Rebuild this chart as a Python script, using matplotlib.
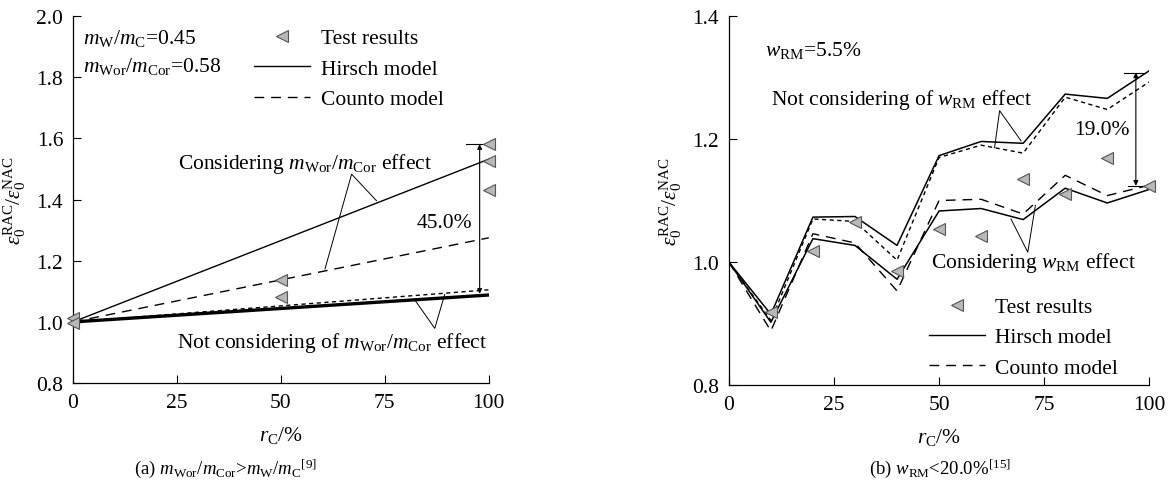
import matplotlib
matplotlib.use("Agg")
import matplotlib.pyplot as plt
from matplotlib.lines import Line2D

plt.rcParams["font.family"] = ["Liberation Serif", "DejaVu Serif"]
plt.rcParams["mathtext.fontset"] = "custom"
plt.rcParams["mathtext.rm"] = "Liberation Serif"
plt.rcParams["mathtext.it"] = "Liberation Serif:italic"
plt.rcParams["mathtext.bf"] = "Liberation Serif:bold"

# ---- panel (a): m_Wor/m_Cor > m_W/m_C ----
rc_a = [0, 100]
hirsch_c_a = [1.0, 1.532]     # considering m_Wor/m_Cor
counto_c_a = [1.0, 1.275]
hirsch_nc_a = [1.0, 1.088]    # not considering
counto_nc_a = [1.0, 1.105]
test_x_a = [0, 0, 50, 50, 100, 100, 100]
test_y_a = [1.012, 0.997, 1.138, 1.083, 1.581, 1.525, 1.430]

# ---- panel (b): w_RM < 20.0% ----
rc_b = [0, 10, 20, 30, 40, 50, 60, 70, 80, 90, 100]
hirsch_nc_b = [1.0, 0.915, 1.073, 1.074, 1.027, 1.173, 1.196, 1.193, 1.273, 1.266, 1.311]
counto_nc_b = [1.0, 0.905, 1.070, 1.066, 1.003, 1.170, 1.190, 1.177, 1.268, 1.248, 1.293]
hirsch_c_b = [1.0, 0.902, 1.038, 1.027, 0.972, 1.083, 1.087, 1.069, 1.120, 1.096, 1.118]
counto_c_b = [1.0, 0.888, 1.046, 1.031, 0.953, 1.100, 1.102, 1.078, 1.141, 1.108, 1.125]
test_x_b = [10, 20, 30, 40, 50, 60, 70, 80, 90, 100]
test_y_b = [0.918, 1.018, 1.065, 0.986, 1.054, 1.042, 1.135, 1.111, 1.169, 1.124]

LONG = (0, (7, 5))
SHORT = (0, (3, 2.5))
FS = 15.5
mk = dict(marker="<", linestyle="none", markersize=9, markerfacecolor="#b8b8b8",
          markeredgecolor="#555555", markeredgewidth=0.8)
YLABEL = r"$\varepsilon_0^{\rm RAC}/\varepsilon_0^{\rm NAC}$"
XLABEL = r"$r_{\rm C}$/%"


def style_axes(ax, ylim, yticks):
    ax.set_xlim(0, 100)
    ax.set_ylim(*ylim)
    ax.set_xticks([0, 25, 50, 75, 100])
    ax.set_yticks(yticks)
    ax.yaxis.set_major_formatter(matplotlib.ticker.FormatStrFormatter("%.1f"))
    for s in ["top", "right"]:
        ax.spines[s].set_visible(False)
    for s in ["left", "bottom"]:
        ax.spines[s].set_linewidth(0.9)
    ax.tick_params(direction="in", length=6, width=0.8, labelsize=FS, pad=7)
    ax.set_xlabel(XLABEL, fontsize=FS, labelpad=9)
    ax.set_ylabel(YLABEL, fontsize=FS, labelpad=6)


def add_legend(ax, anchor):
    handles = [
        Line2D([], [], **mk),
        Line2D([], [], color="k", lw=1.0),
        Line2D([], [], color="k", lw=1.0, linestyle=LONG),
    ]
    ax.legend(handles, ["Test results", "Hirsch model", "Counto model"],
              loc="upper left", bbox_to_anchor=anchor, frameon=False,
              fontsize=FS, handlelength=2.6, handletextpad=0.5,
              labelspacing=0.48, borderaxespad=0)


def range_arrow(ax, x, y_top, y_bot, tick_top, tick_bot=None):
    ax.annotate("", xy=(x, y_bot), xytext=(x, y_top),
                arrowprops=dict(arrowstyle="<|-|>", lw=0.8, color="k",
                                mutation_scale=7, shrinkA=0, shrinkB=0))
    ax.plot(tick_top, [y_top, y_top], color="k", lw=0.8)
    if tick_bot is not None:
        ax.plot(tick_bot, [y_bot, y_bot], color="k", lw=0.8)


fig = plt.figure(figsize=(11.68, 4.85), dpi=100)

# panel (a)
ax1 = fig.add_axes([0.0625, 0.208, 0.356, 0.757])
ax1.plot(rc_a, hirsch_c_a, color="k", lw=1.0)
ax1.plot(rc_a, counto_c_a, color="k", lw=1.0, linestyle=LONG)
ax1.plot(rc_a, counto_nc_a, color="k", lw=1.0, linestyle=SHORT)
ax1.plot(rc_a, hirsch_nc_a, color="k", lw=2.4)
ax1.plot(test_x_a, test_y_a, clip_on=False, zorder=5, **mk)
style_axes(ax1, (0.8, 2.0), [0.8, 1.0, 1.2, 1.4, 1.6, 1.8, 2.0])
add_legend(ax1, (0.415, 0.99))
ax1.text(2.4, 1.931, r"$m_{\rm W}/m_{\rm C}$=0.45", fontsize=FS, va="center")
ax1.text(2.4, 1.837, r"$m_{\rm Wor}/m_{\rm Cor}$=0.58", fontsize=FS, va="center")

range_arrow(ax1, 97.8, 1.581, 1.092, [94.5, 100])
ax1.text(89.4, 1.326, "45.0%", fontsize=FS, ha="center", va="center")

ax1.text(55.8, 1.52, r"Considering $m_{\rm Wor}/m_{\rm Cor}$ effect",
         fontsize=FS, ha="center", va="center")
ax1.plot([73.0, 67.0, 60.6], [1.396, 1.483, 1.173], color="k", lw=0.7)
ax1.text(62.2, 0.933, r"Not considering of $m_{\rm Wor}/m_{\rm Cor}$ effect",
         fontsize=FS, ha="center", va="center")
ax1.plot([82.2, 87.0, 89.4], [1.072, 0.979, 1.090], color="k", lw=0.7)

# panel (b)
ax2 = fig.add_axes([0.624, 0.204, 0.360, 0.761])
ax2.plot(rc_b, hirsch_nc_b, color="k", lw=1.1)
ax2.plot(rc_b, counto_nc_b, color="k", lw=1.0, linestyle=SHORT)
ax2.plot(rc_b, hirsch_c_b, color="k", lw=1.1)
ax2.plot(rc_b, counto_c_b, color="k", lw=1.0, linestyle=LONG)
ax2.plot(test_x_b, test_y_b, clip_on=False, zorder=5, **mk)
style_axes(ax2, (0.8, 1.4), [0.8, 1.0, 1.2, 1.4])
add_legend(ax2, (0.455, 0.262))
ax2.text(8.5, 1.346, r"$w_{\rm RM}$=5.5%", fontsize=FS, va="center")

range_arrow(ax2, 96.8, 1.308, 1.124, [94.0, 98.5], [95.0, 100])
ax2.text(88.8, 1.216, "19.0%", fontsize=FS, ha="center", va="center")

ax2.text(41.1, 1.265, r"Not considering of $w_{\rm RM}$ effect",
         fontsize=FS, ha="center", va="center")
ax2.plot([63.2, 64.4, 69.5], [1.186, 1.246, 1.197], color="k", lw=0.7)
ax2.text(72.4, 1.0, r"Considering $w_{\rm RM}$ effect",
         fontsize=FS, ha="center", va="center")
ax2.plot([67.1, 71.1, 72.9], [1.070, 1.016, 1.092], color="k", lw=0.7)

# captions
fig.text(226 / 1168, 1 - 469 / 485,
         r"(a) $m_{\rm Wor}/m_{\rm Cor}$>$m_{\rm W}/m_{\rm C}{}^{[9]}$",
         fontsize=13.5, ha="center", va="center")
fig.text(940 / 1168, 1 - 469 / 485, r"(b) $w_{\rm RM}$<20.0%$^{[15]}$",
         fontsize=13.5, ha="center", va="center")

fig.savefig("out.png", dpi=100)
